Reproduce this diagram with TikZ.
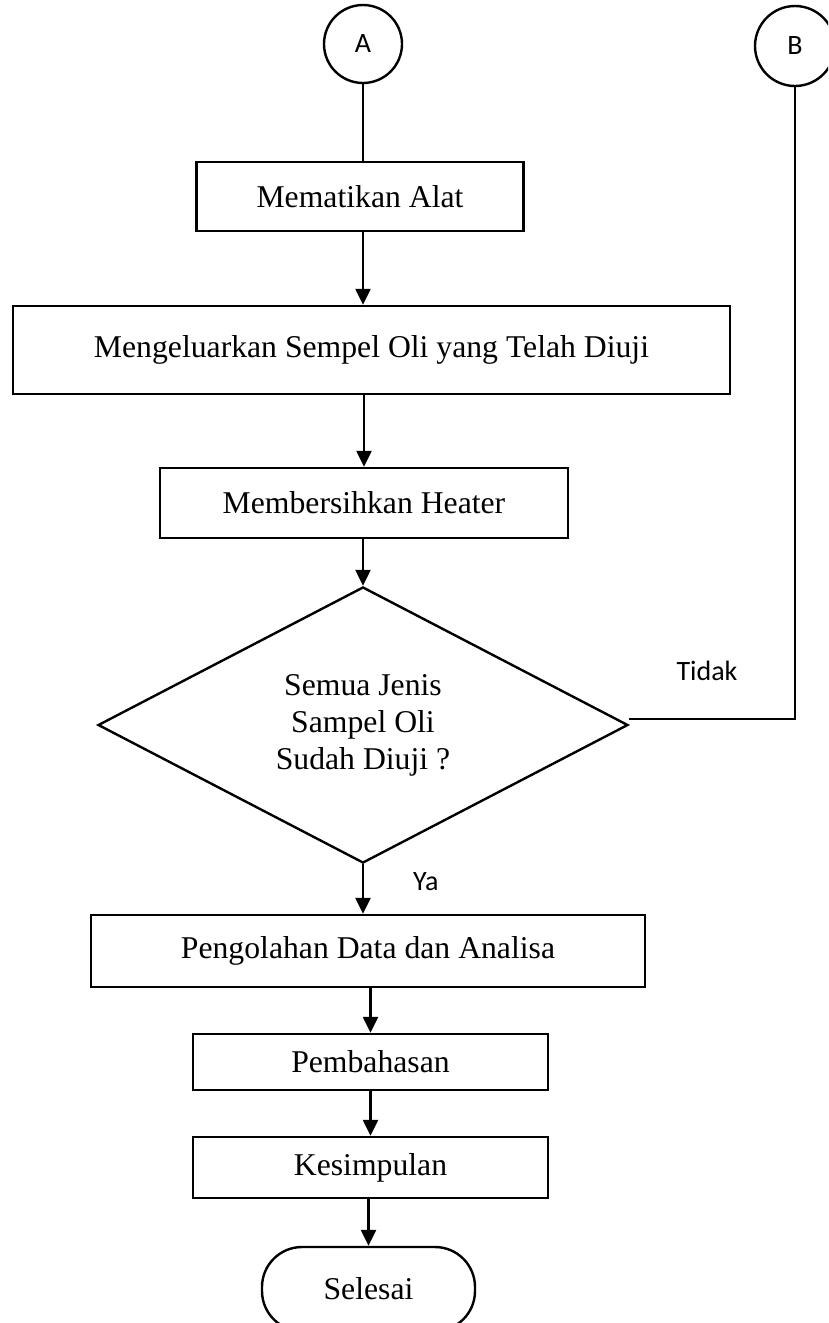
\documentclass[tikz,border=0pt]{standalone}
\usepackage{fontspec}
\setmainfont{Liberation Serif}
\newfontfamily\labelfont{Carlito}
\usetikzlibrary{arrows.meta,shapes.geometric}
\tikzset{
  stepbox/.style={draw, line width=2.4pt, rectangle, inner sep=0pt, align=center,
    font=\fontsize{31.7}{37}\selectfont},
  decisionbox/.style={draw, line width=2.4pt, diamond, inner sep=0pt, align=center,
    font=\fontsize{31.7}{37}\selectfont},
  connector/.style={draw, line width=2.4pt, circle, inner sep=0pt, minimum size=78pt,
    font=\labelfont\fontsize{28}{32}\selectfont},
  endbox/.style={draw, line width=2.4pt, rectangle, rounded corners=40pt, inner sep=0pt,
    font=\fontsize{31.7}{37}\selectfont},
  lbl/.style={font=\labelfont\fontsize{28}{32}\selectfont, inner sep=0pt},
  flow/.style={line width=2.4pt},
  arr/.style={line width=2.4pt, -{Triangle[width=15pt,length=16pt]}}
}
\begin{document}
\begin{tikzpicture}[x=1pt,y=-1pt]
\useasboundingbox (0,0) rectangle (828,1323);
\clip (0,0) rectangle (828,1323);
\node[connector] (A) at (363,44) {A};
\node[connector, minimum size=80pt] (B) at (795,46) {B};
\node[stepbox, minimum width=327pt, minimum height=69pt] (s1) at (360,196.5) {Mematikan Alat};
\node[stepbox, minimum width=717pt, minimum height=88pt] (s2) at (371.5,350) {Mengeluarkan Sempel Oli yang Telah Diuji};
\node[stepbox, minimum width=408pt, minimum height=70pt] (s3) at (364,503) {Membersihkan Heater};
\node[decisionbox, minimum width=530pt, minimum height=272pt] (d) at (363,725) {Semua Jenis\\Sampel Oli\\Sudah Diuji ?};
\node[stepbox, minimum width=554pt, minimum height=72pt] (s4) at (368,951) {Pengolahan Data dan Analisa};
\node[stepbox, minimum width=355pt, minimum height=56pt] (s5) at (370.5,1062) {Pembahasan};
\node[stepbox, minimum width=355pt, minimum height=61pt] (s6) at (370.5,1167.5) {Kesimpulan};
\node[endbox, minimum width=213pt, minimum height=84pt] (e) at (368.5,1289) {Selesai};
\node[lbl, anchor=base] (tidak) at (707,680) {Tidak};
\node[lbl, anchor=base west] (ya) at (413,890) {Ya};
\draw[flow] (A.south) -- (A.south |- s1.north);
\draw[arr] (A.south |- s1.south) -- (A.south |- s2.north);
\draw[arr] (s2.south -| s3.north) -- (s3.north);
\draw[arr] (s3.south -| d.north) -- (d.north);
\draw[arr] (d.south) -- (d.south |- s4.north);
\draw[arr] (s4.south -| s5.north) -- (s5.north);
\draw[arr] (s5.south) -- (s6.north);
\draw[arr] (s6.south -| e.north) -- (e.north);
\draw[flow] (B.south) |- ([yshift=6pt]d.east);
\end{tikzpicture}
\end{document}
